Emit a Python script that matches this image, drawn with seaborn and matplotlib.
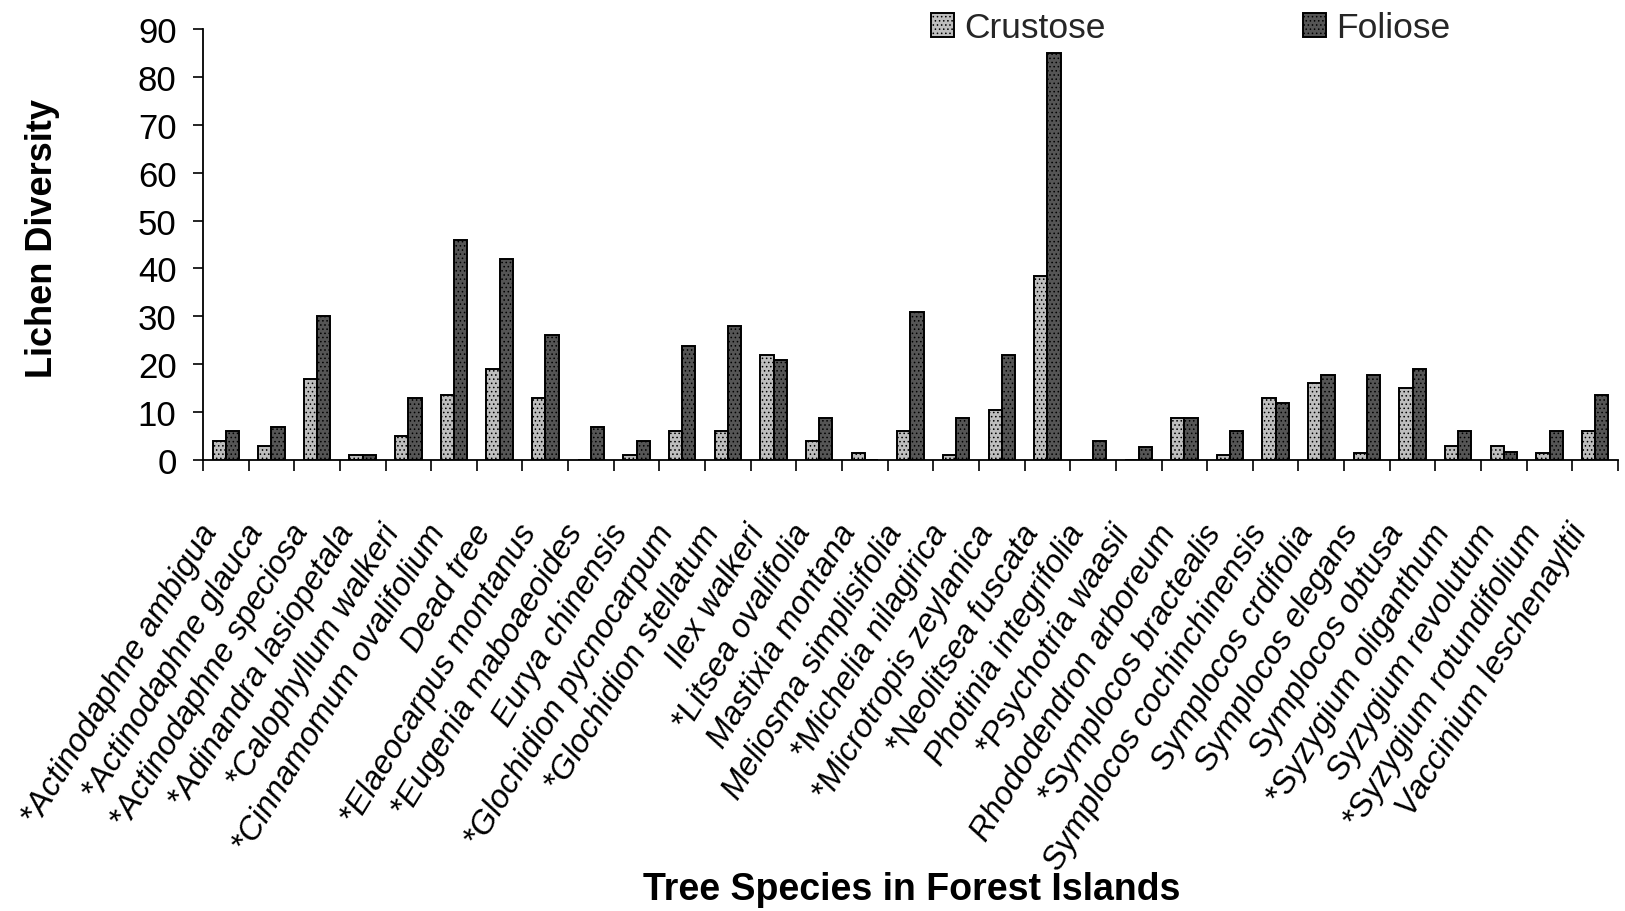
import matplotlib
matplotlib.use("Agg")
import matplotlib.pyplot as plt
import matplotlib.transforms as mtransforms
from matplotlib.patches import Patch
from matplotlib.ticker import FixedLocator, NullFormatter
import seaborn as sns
import pandas as pd
import numpy as np

species = [
    "*Actinodaphne ambigua", "*Actinodaphne glauca", "*Actinodaphne speciosa",
    "*Adinandra lasiopetala", "*Calophyllum walkeri", "*Cinnamomum ovalifolium",
    "Dead tree", "*Elaeocarpus montanus", "*Eugenia maboaeoides", "Eurya chinensis",
    "*Glochidion pycnocarpum", "*Glochidion stellatum", "Ilex walkeri",
    "*Litsea ovalifolia", "Mastixia montana", "Meliosma simplisifolia",
    "*Michelia nilagirica", "*Microtropis zeylanica", "*Neolitsea fuscata",
    "Photinia integrifolia", "*Psychotria waasii", "Rhododendron arboreum",
    "*Symplocos bractealis", "Symplocos cochinchinensis", "Symplocos crdifolia",
    "Symplocos elegans", "Symplocos obtusa", "*Syzygium oliganthum",
    "Syzygium revolutum", "*Syzygium rotundifolium", "Vaccinium leschenayltii",
]
crustose = [4, 3, 17, 1, 5, 13.5, 19, 13, 0, 1, 6, 6, 22, 4, 1.5, 6, 1, 10.5,
            38.5, 0, 0, 8.7, 1, 13, 16, 1.5, 15, 3, 3, 1.5, 6]
foliose = [6, 7, 30, 1, 13, 46, 42, 26.2, 7, 4, 23.8, 28, 20.8, 8.8, 0, 31,
           8.8, 22, 85, 4, 2.8, 8.7, 6, 12, 17.8, 17.8, 19, 6, 1.7, 6, 13.5]
series = ["Crustose", "Foliose"]
yticks = [0, 10, 20, 30, 40, 50, 60, 70, 80, 90]

df = pd.DataFrame({
    "Species": species * 2,
    "Type": [series[0]] * len(species) + [series[1]] * len(species),
    "Value": crustose + foliose,
})

sns.set_theme(style="white")
plt.rcParams["font.family"] = ["Liberation Sans", "DejaVu Sans"]
plt.rcParams["hatch.linewidth"] = 0.6

fig = plt.figure(figsize=(16.25, 9.12), dpi=100)
ax = fig.add_axes([0.1249, 0.4945, 0.8708, 0.4725])

fills = {"Crustose": "#bebebe", "Foliose": "#555555"}
sns.barplot(data=df, x="Species", y="Value", hue="Type", order=species,
            hue_order=series, palette=fills, width=0.58, gap=0,
            edgecolor="black", linewidth=1.4, saturation=1, ax=ax,
            legend=False)
for cont, s in zip(ax.containers, series):
    for bar in cont:
        bar.set_hatch("....")
        bar.set_edgecolor("black")

ax.set_xlim(-0.5, len(species) - 0.5)
ax.set_ylim(0, 90)
ax.set_yticks(yticks)
ax.set_yticklabels([str(v) for v in yticks])

for side in ["top", "right"]:
    ax.spines[side].set_visible(False)
for side in ["left", "bottom"]:
    ax.spines[side].set_color("black")
    ax.spines[side].set_linewidth(1.3)

ax.tick_params(axis="y", which="major", direction="out", length=7, width=1.2,
               color="black", pad=12, labelsize=25, labelcolor="black", left=True)
# boundary ticks on x
bounds = np.arange(len(species) + 1) - 0.5
ax.xaxis.set_minor_locator(FixedLocator(bounds))
ax.xaxis.set_minor_formatter(NullFormatter())
ax.tick_params(axis="x", which="minor", direction="out", length=8, width=1.2,
               color="black", bottom=True)
ax.tick_params(axis="x", which="major", length=0, pad=48, labelsize=23.5,
               labelcolor="black")
ax.set_xticks(range(len(species)))
ax.set_xticklabels(species, rotation=58.5, ha="right", va="center",
                   rotation_mode="anchor", style="italic")
offset = mtransforms.ScaledTranslation(-15 / 100, 0, fig.dpi_scale_trans)
for lbl in ax.get_xticklabels():
    lbl.set_transform(lbl.get_transform() + offset)

ax.set_xlabel("")
ax.set_ylabel("")
fig.text(43 / 1625, 1 - 238 / 912, "Lichen Diversity", rotation=90,
         ha="center", va="center", fontsize=26, fontweight="bold", color="black")
fig.text(912 / 1625, 1 - 890 / 912, "Tree Species in Forest Islands",
         ha="center", va="center", fontsize=27, fontweight="bold", color="black")

handles = [Patch(facecolor=fills[s], edgecolor="black", hatch="....",
                 linewidth=1.4, label=s) for s in series]
fig.legend(handles=handles, loc="center left",
           bbox_to_anchor=(931 / 1625, 1 - 29 / 912), ncol=2, frameon=False,
           fontsize=25.5, handlelength=0.65, handleheight=0.65, handletextpad=0.3,
           columnspacing=5.55, borderpad=0, borderaxespad=0)

fig.savefig("out.png", dpi=100, facecolor="white")
